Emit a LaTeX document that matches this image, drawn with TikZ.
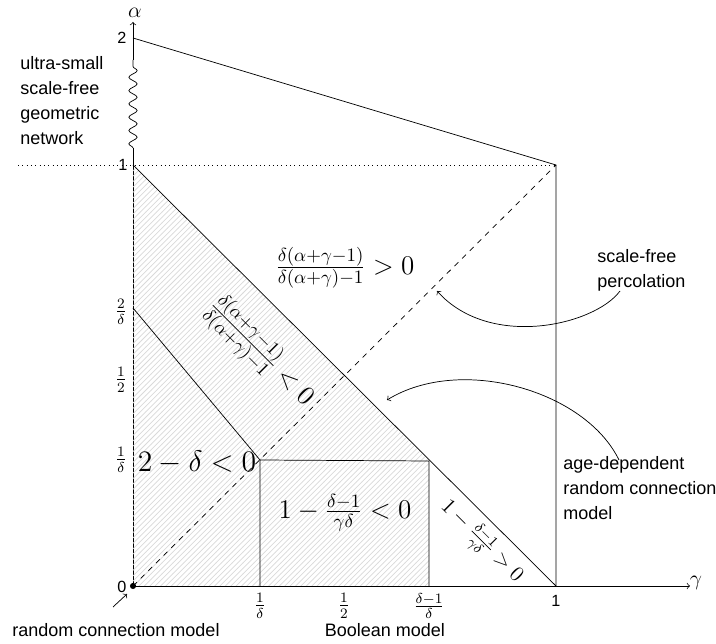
\RequirePackage{fix-cm}
\documentclass[tikz,border=0pt]{standalone}
\usepackage{fontspec}
\setsansfont{Liberation Sans}
\usetikzlibrary{patterns,decorations.pathmorphing}
\begin{document}
\begin{tikzpicture}[x=0.5556pt,y=-0.5556pt,
  lbl/.style={font=\sffamily\fontsize{10}{13.9}\selectfont, inner sep=0pt, align=left},
  big/.style={font=\fontsize{15}{18}\selectfont, inner sep=0pt},
  mid/.style={font=\fontsize{12}{14}\selectfont, inner sep=0pt},
  tick/.style={font=\fontsize{12}{14}\selectfont, inner sep=0pt},
  num/.style={font=\sffamily\fontsize{9}{11}\selectfont, inner sep=0pt}]
\useasboundingbox (0,0) rectangle (716,644);
\coordinate (O) at (133,586);
\coordinate (A1) at (133,165);
\coordinate (A2) at (133,38);
\coordinate (G1) at (556,586);
\coordinate (P) at (556,165);
\coordinate (Atop) at (133,22);
\coordinate (Gend) at (690,586);
\coordinate (Sbot) at (133,148);
\coordinate (Stop) at (133,60);
\coordinate (D2) at (133,308);
\coordinate (R1) at (260,460);
\coordinate (R2) at (429,461);
\coordinate (R1b) at (260,586);
\coordinate (R2b) at (429,586);
\coordinate (Ldot) at (18,165);
% axes
\draw[->] (O) -- (Gend);
\draw (O) -- (Sbot);
\draw[decorate, decoration={snake, segment length=7.4pt, amplitude=2.3pt}] (Sbot) -- (Stop);
\draw[->] (Stop) -- (Atop);
% hatching
\fill[pattern=north east lines, pattern color=gray!30] (O) -- (A1) -- (R2) -- (R2b) -- cycle;
% lines
\draw[dotted] (Ldot) -- (P);
\draw[dashed] (O) -- (P);
\draw (A2) -- (P) -- (G1);
\draw (A1) -- (G1);
\draw (D2) -- (R1);
\draw (R1b) -- (R1) -- (R2) -- (R2b);
\fill (O) circle[radius=1.7pt];
% tick labels
\node[num] (l0) at (122,587) {0};
\node[num] (l1) at (123,165) {1};
\node[num] (l2) at (122,38) {2};
\node[tick] (ld) at (121,460) {$\frac{1}{\delta}$};
\node[tick] (lh) at (121,380) {$\frac{1}{2}$};
\node[tick] (l2d) at (121,312) {$\frac{2}{\delta}$};
\node[tick] (xd) at (260,606) {$\frac{1}{\delta}$};
\node[tick] (xh) at (344,606) {$\frac{1}{2}$};
\node[tick] (xdd) at (429,606) {$\frac{\delta-1}{\delta}$};
\node[num] (x1) at (556,601) {1};
\node[tick] (alpha) at (135,13) {$\alpha$};
\node[tick] (gamma) at (696,583) {$\gamma$};
% region formulas
\node[big] (f1) at (345,268) {$\frac{\delta(\alpha+\gamma-1)}{\delta(\alpha+\gamma)-1} > 0$};
\node[big, rotate=-45] (f2) at (260,353) {$\frac{\delta(\alpha+\gamma-1)}{\delta(\alpha+\gamma)-1} < 0$};
\node[big, scale=1.1] (f3) at (197,462) {$2-\delta<0$};
\node[big] (f4) at (345,513) {$1-\frac{\delta-1}{\gamma\delta}<0$};
\node[mid, rotate=-45] (f5) at (481,542) {$1-\frac{\delta-1}{\gamma\delta}>0$};
% text labels
\node[lbl, anchor=west] (usf) at (20,101) {ultra-small\\scale-free\\geometric\\network};
\node[lbl, anchor=west] (sfp) at (597,270) {scale-free\\percolation};
\node[lbl, anchor=west] (adr) at (563,488) {age-dependent\\random connection\\model};
\node[lbl] (rcm) at (116,630) {random connection model};
\node[lbl] (bm) at (385,630) {Boolean model};
% pointers
\coordinate (rcmA) at (113,607);
\coordinate (rcmB) at (127,594);
\draw[->] (rcmA) -- (rcmB);
\coordinate (sfpS) at (620,291);
\coordinate (sfpE) at (437,291);
\draw[->] (sfpS) .. controls (595,325) and (490,350) .. (sfpE);
\coordinate (adrS) at (619,460);
\coordinate (adrE) at (387,400);
\draw[->] (adrS) .. controls (585,390) and (460,355) .. (adrE);
\end{tikzpicture}
\end{document}
